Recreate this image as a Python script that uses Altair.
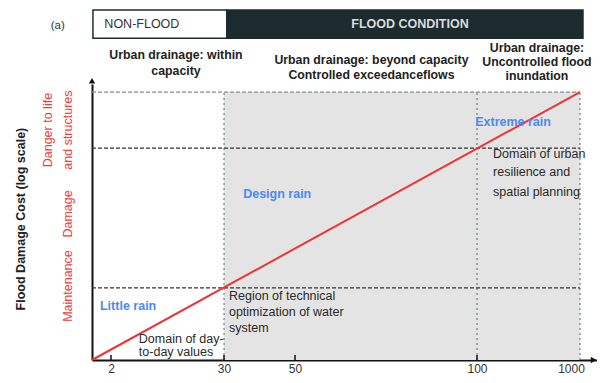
import altair as alt
import pandas as pd

# ---------------- data (conceptual diagram values) ----------------
tick_values = [2, 30, 50, 100, 1000]          # rainfall return-period ticks
x_breaks = [0, 2, 30, 50, 100, 1000, 1148]    # non-uniform axis break points
y_max = 103

boundary_x = [30, 100, 1000]                  # region boundaries
shade_from = [30]
shade_to = [1000]
level_names = ["top", "damage", "maintenance"]
level_y = [100, 79.1, 26.9]
line_x = [0, 1000]
line_y = [0, 100]
small_ticks = [2, 30, 50, 100]

header_text = ["NON-FLOOD", "FLOOD CONDITION"]
header_x0 = [0.1, 30.8]
header_x1 = [30.8, 1026]
header_y0 = [120.1, 120.1]
header_y1 = [130.6, 130.6]
header_text_x = [1.3, 81.6]
header_text_y = [125.4, 125.4]

col_text = ["Urban drainage: within", "capacity",
            "Urban drainage: beyond capacity", "Controlled exceedanceflows",
            "Urban drainage:", "Uncontrolled flood", "inundation"]
col_x = [18.1, 18.1, 71.0, 71.0, 624, 624, 624]
col_y = [113.8, 107.8, 111.9, 106.4, 116.6, 111.2, 105.8]

note_text = ["Domain of day-", "to-day values",
             "Region of technical", "optimization of water", "system",
             "Domain of urban", "resilience and", "spatial planning"]
note_x = [8.9, 8.9, 31.4, 31.4, 31.4, 240, 240, 240]
note_y = [7.8, 3.0, 23.9, 17.9, 11.9, 76.9, 70.1, 62.7]

rain_text = ["Little rain", "Design rain", "Extreme rain"]
rain_x = [0.84, 35.4, 99.5]
rain_y = [20.1, 61.9, 88.8]

cost_text = ["Danger to life", "and structures", "Damage", "Maintenance"]
cost_x = [-4.63, -2.53, -2.53, -2.53]
cost_y = [85.8, 85.8, 54.5, 27.6]

ytitle_text = ["Flood Damage Cost (log scale)"]
ytitle_x = [-7.5]
ytitle_y = [52.6]

panel_text = ["(a)"]
panel_x = [-3.6]
panel_y = [124.6]

arrow_x = [1118]
arrow_y = [104.2]

# ---------------- scales / axes ----------------
FONT = "Liberation Sans"
xscale = alt.Scale(type="linear", domain=x_breaks,
                   range=[0, 19, 132, 203, 385, 488, 505],
                   nice=False, zero=False)
yscale = alt.Scale(type="linear", domain=[0, y_max], nice=False, zero=False)

xaxis = alt.Axis(values=tick_values, format="d", title=None, grid=False,
                 ticks=False, labelPadding=3, labelFontSize=12,
                 labelFont=FONT, labelColor="#333333", labelFlush=False,
                 labelOffset={"condition": {"test": "datum.value == 1000", "value": -9}, "value": 0},
                 domainColor="#111111", domainWidth=2)
yaxis = alt.Axis(labels=False, ticks=False, title=None, grid=False,
                 domainColor="#111111", domainWidth=2)


def X(f):
    return alt.X(f, type="quantitative", scale=xscale, axis=xaxis)


def Y(f):
    return alt.Y(f, type="quantitative", scale=yscale, axis=yaxis)


# ---------------- layers ----------------
shade = alt.Chart(pd.DataFrame({"x0": shade_from, "x1": shade_to,
                                "y0": [0], "y1": [level_y[0]]})).mark_rect(
    color="#e4e4e4").encode(x=X("x0"), x2="x1", y=Y("y0"), y2="y1")

vlines = alt.Chart(pd.DataFrame({"x": boundary_x, "y0": 0, "y1": level_y[0]})).mark_rule(
    color="#6d8282", strokeWidth=1.2, strokeDash=[2, 3]).encode(x=X("x"), y=Y("y0"), y2="y1")

hl = pd.DataFrame({"name": level_names, "y": level_y, "x0": 0, "x1": line_x[1]})
hline_top = alt.Chart(hl.iloc[[0]]).mark_rule(
    color="#7d8f8f", strokeWidth=1.2, strokeDash=[4, 2]).encode(x=X("x0"), x2="x1", y=Y("y"))
hline_mid = alt.Chart(hl.iloc[[1, 2]]).mark_rule(
    color="#333333", strokeWidth=1.2, strokeDash=[4, 2]).encode(x=X("x0"), x2="x1", y=Y("y"))

red_line = alt.Chart(pd.DataFrame({"x": line_x, "y": line_y})).mark_line(
    color="#ee3333", strokeWidth=2).encode(x=X("x"), y=Y("y"))

ticks = alt.Chart(pd.DataFrame({"x": small_ticks, "y0": 0, "y1": 1.9})).mark_rule(
    color="#111111", strokeWidth=1.5).encode(x=X("x"), y=Y("y0"), y2="y1")

x_arrow = alt.Chart(pd.DataFrame({"x": arrow_x, "y": [0]})).mark_point(
    shape="triangle-right", filled=True, size=40, color="#111111", opacity=1).encode(x=X("x"), y=Y("y"))
y_arrow = alt.Chart(pd.DataFrame({"x": [0], "y": arrow_y})).mark_point(
    shape="triangle-up", filled=True, size=40, color="#111111", opacity=1).encode(x=X("x"), y=Y("y"))

hdr = pd.DataFrame({"t": header_text, "x0": header_x0, "x1": header_x1,
                    "y0": header_y0, "y1": header_y1,
                    "tx": header_text_x, "ty": header_text_y})
hdr_box1 = alt.Chart(hdr.iloc[[0]]).mark_rect(
    fill="white", stroke="#1d2e30", strokeWidth=1.5).encode(x=X("x0"), x2="x1", y=Y("y0"), y2="y1")
hdr_box2 = alt.Chart(hdr.iloc[[1]]).mark_rect(
    fill="#1c2c2e", stroke="#1c2c2e", strokeWidth=1.5).encode(x=X("x0"), x2="x1", y=Y("y0"), y2="y1")
hdr_t1 = alt.Chart(hdr.iloc[[0]]).mark_text(
    align="left", baseline="middle", font=FONT, fontSize=12.5, color="#333333").encode(
    x=X("tx"), y=Y("ty"), text="t:N")
hdr_t2 = alt.Chart(hdr.iloc[[1]]).mark_text(
    align="center", baseline="middle", font=FONT, fontSize=12.5, fontWeight="bold",
    color="#d9dcdc").encode(x=X("tx"), y=Y("ty"), text="t:N")

cols = alt.Chart(pd.DataFrame({"t": col_text, "x": col_x, "y": col_y})).mark_text(
    align="center", baseline="middle", font=FONT, fontSize=12.3, fontWeight="bold",
    color="#222222").encode(x=X("x"), y=Y("y"), text="t:N")

notes = alt.Chart(pd.DataFrame({"t": note_text, "x": note_x, "y": note_y})).mark_text(
    align="left", baseline="middle", font=FONT, fontSize=12.5,
    color="#2a2a2a").encode(x=X("x"), y=Y("y"), text="t:N")

rains = alt.Chart(pd.DataFrame({"t": rain_text, "x": rain_x, "y": rain_y})).mark_text(
    align="left", baseline="middle", font=FONT, fontSize=12.5, fontWeight="bold",
    color="#4a8af4").encode(x=X("x"), y=Y("y"), text="t:N")

costs = alt.Chart(pd.DataFrame({"t": cost_text, "x": cost_x, "y": cost_y})).mark_text(
    align="center", baseline="middle", font=FONT, fontSize=12.5, angle=270,
    color="#ef3d3d").encode(x=X("x"), y=Y("y"), text="t:N")

ytitle = alt.Chart(pd.DataFrame({"t": ytitle_text, "x": ytitle_x, "y": ytitle_y})).mark_text(
    align="center", baseline="middle", font=FONT, fontSize=12.5, angle=270, fontWeight="bold",
    color="#222222").encode(x=X("x"), y=Y("y"), text="t:N")

panel = alt.Chart(pd.DataFrame({"t": panel_text, "x": panel_x, "y": panel_y})).mark_text(
    align="center", baseline="middle", font=FONT, fontSize=11.5,
    color="#333333").encode(x=X("x"), y=Y("y"), text="t:N")

chart = alt.layer(
    shade, vlines, hline_top, hline_mid, red_line, ticks, x_arrow, y_arrow,
    hdr_box1, hdr_box2, hdr_t1, hdr_t2, cols, notes, rains, costs, ytitle, panel
).properties(
    width=505, height=276,
    autosize=alt.AutoSizeParams(type="none"),
    padding={"left": 84, "top": 76, "right": 0, "bottom": 15},
    background="white",
).configure_view(stroke=None)

chart.save("out.html", embed_options={"renderer": "svg", "actions": False})
